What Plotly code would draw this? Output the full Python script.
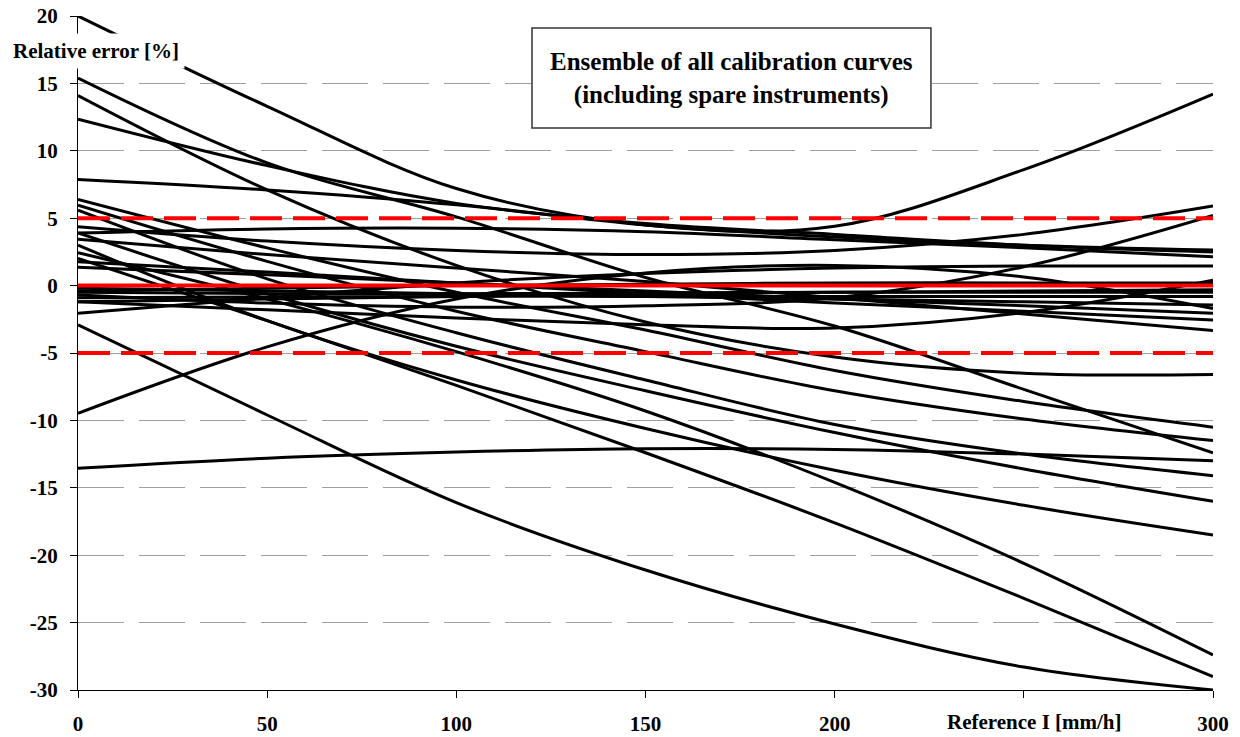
import plotly.graph_objects as go

# ---------------- data ----------------
x_ref = [0, 50, 100, 150, 200, 250, 300]

curve_01 = [20.0, 13.3, 7.2, 4.5, 4.4, 8.6, 14.2]
curve_02 = [15.4, 9.1, 5.1, 0.6, -3.0, -7.7, -12.4]
curve_03 = [14.1, 7.1, 1.5, -2.7, -5.3, -6.5, -6.6]
curve_04 = [12.35, 8.9, 6.1, 4.6, 3.8, 3.0, 2.5]
curve_05 = [7.88, 7.1, 6.0, 4.5, 3.6, 3.0, 2.64]
curve_06 = [4.37, 3.3, 2.6, 2.3, 2.6, 3.8, 5.9]
curve_07 = [-0.7, -1.3, -1.6, -1.5, -0.9, 1.4, 5.2]
curve_08 = [3.9, 4.2, 4.25, 4.0, 3.4, 2.8, 2.14]
curve_09 = [-2.05, -0.9, 0.2, 0.9, 1.3, 1.45, 1.45]
curve_10 = [-1.2, -1.8, -2.4, -2.9, -3.15, -2.0, 0.4]
curve_11 = [-0.4, -0.2, 0.0, 0.1, 0.2, 0.2, 0.2]
curve_12 = [-1.2, -1.0, -0.8, -0.6, -0.5, -0.4, -0.3]
curve_13 = [-0.5, -0.6, -0.6, -0.55, -0.5, -0.5, -0.5]
curve_14 = [-0.9, -0.85, -0.8, -0.8, -0.8, -0.8, -0.8]
curve_15 = [-0.2, -0.4, -0.6, -0.8, -1.0, -1.2, -1.44]
curve_16 = [-9.47, -4.55, -1.0, 0.94, 1.5, 0.64, -1.7]
curve_17 = [1.36, 0.8, 0.2, -0.4, -1.0, -1.5, -2.05]
curve_18 = [1.77, 1.0, 0.2, -0.6, -1.3, -1.9, -2.55]
curve_19 = [3.43, 2.3, 1.3, 0.3, -0.9, -2.1, -3.34]
curve_20 = [6.4, 2.8, -0.5, -3.3, -6.3, -8.6, -10.5]
curve_21 = [5.97, 1.8, -1.9, -4.9, -7.8, -9.9, -11.5]
curve_22 = [-13.55, -12.8, -12.35, -12.1, -12.15, -12.5, -13.0]
curve_23 = [5.6, 0.5, -3.5, -7.0, -10.3, -12.5, -14.1]
curve_24 = [3.9, -0.6, -4.5, -7.8, -10.9, -13.6, -16.0]
curve_25 = [3.0, -2.6, -7.0, -10.6, -13.7, -16.3, -18.5]
curve_26 = [2.44, -1.0, -4.9, -9.3, -14.6, -20.6, -27.4]
curve_27 = [2.02, -2.6, -7.4, -12.4, -17.6, -23.2, -29.0]
curve_28 = [-2.92, -9.6, -16.1, -21.1, -25.1, -28.3, -30.0]

limit_x = [0, 300]
tolerance_levels = [5, -5]
reference_level = 0

x_ticks = [0, 50, 100, 150, 200, 250, 300]
x_tick_labels = ["0", "50", "100", "150", "200", "", "300"]
y_ticks = [20, 15, 10, 5, 0, -5, -10, -15, -20, -25, -30]
y_tick_labels = ["20", "15", "10", "5", "0", "-5", "-10", "-15", "-20", "-25", "-30"]

curves = [curve_01, curve_02, curve_03, curve_04, curve_05, curve_06, curve_07,
          curve_08, curve_09, curve_10, curve_11, curve_12, curve_13, curve_14,
          curve_15, curve_16, curve_17, curve_18, curve_19, curve_20, curve_21,
          curve_22, curve_23, curve_24, curve_25, curve_26, curve_27, curve_28]

FONT = "Liberation Serif"

fig = go.Figure()
for ys in curves:
    fig.add_trace(go.Scatter(x=x_ref, y=ys, mode="lines",
                             line=dict(color="black", width=3, shape="spline", smoothing=1.0),
                             showlegend=False, hoverinfo="skip"))

for lvl in tolerance_levels:
    fig.add_trace(go.Scatter(x=limit_x, y=[lvl, lvl], mode="lines",
                             line=dict(color="#ff0000", width=4, dash="32px,11px"),
                             showlegend=False, hoverinfo="skip"))
fig.add_trace(go.Scatter(x=limit_x, y=[reference_level, reference_level], mode="lines",
                         line=dict(color="#ff0000", width=4),
                         showlegend=False, hoverinfo="skip"))

tick_font = dict(family=FONT, size=21, color="black", weight="bold")

fig.update_layout(
    width=1240, height=737,
    margin=dict(l=78, r=27, t=16, b=47, autoexpand=False),
    paper_bgcolor="white", plot_bgcolor="white",
    xaxis=dict(range=[0, 300], tickvals=x_ticks, ticktext=x_tick_labels,
               showline=True, linecolor="black", linewidth=1,
               ticks="outside", ticklen=7, tickcolor="black", tickwidth=1,
               showgrid=False, zeroline=False, tickfont=tick_font,
               ticklabelstandoff=8, automargin=False, ticklabeloverflow="allow"),
    yaxis=dict(range=[-30, 20], tickvals=y_ticks, ticktext=y_tick_labels,
               showline=True, linecolor="black", linewidth=1,
               ticks="outside", ticklen=7, tickcolor="black", tickwidth=1,
               showgrid=True, gridcolor="#a0a0a0", gridwidth=1, griddash="46px,15px",
               zeroline=False, tickfont=tick_font, ticklabelstandoff=8,
               automargin=False, ticklabeloverflow="allow"),
    shapes=[dict(type="rect", xref="paper", yref="paper",
                 x0=0.4, x1=0.7515, y0=0.8338, y1=0.9822,
                 line=dict(color="#333333", width=1.5), fillcolor="white", layer="above")],
    annotations=[
        dict(text="Ensemble of all calibration curves<br>(including spare instruments)",
             xref="paper", yref="paper", x=0.5758, y=0.908, xanchor="center", yanchor="middle",
             showarrow=False, align="center",
             font=dict(family=FONT, size=25, color="black", weight="bold")),
        dict(text="Relative error [%]", xref="paper", yref="paper",
             x=-0.0625, y=0.948, xanchor="left", yanchor="middle", showarrow=False,
             bgcolor="white", borderpad=5,
             font=dict(family=FONT, size=21, color="black", weight="bold")),
        dict(text="Reference I [mm/h]", xref="paper", yref="paper",
             x=0.8423, y=-0.0475, xanchor="center", yanchor="middle", showarrow=False,
             font=dict(family=FONT, size=21, color="black", weight="bold")),
    ],
)

# remove the browser's default 8px body margin so the figure fills the window exactly
fig.write_html("out.html", config={"displayModeBar": False, "staticPlot": True},
               post_script="document.body.style.margin='0px';")
